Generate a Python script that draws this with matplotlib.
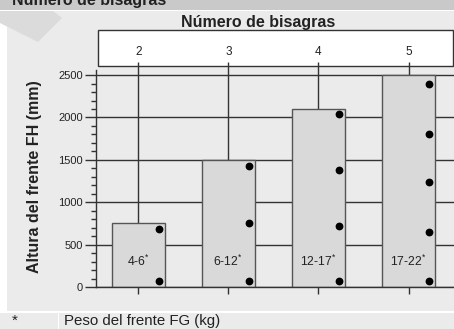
import matplotlib
matplotlib.use('Agg')
import matplotlib.pyplot as plt
from matplotlib.patches import Rectangle, Polygon
from matplotlib.ticker import MultipleLocator

# hinge count, max front height (mm) and front weight range (kg) per column
hinges = [2, 3, 4, 5]
front_height = [750, 1500, 2100, 2500]
front_weight = ['4-6', '6-12', '12-17', '17-22']
# hinge positions marked along each front (mm)
hinge_spots = [
    [70, 680],
    [70, 750, 1430],
    [70, 720, 1380, 2040],
    [70, 650, 1240, 1810, 2400],
]

plt.rcParams['font.family'] = ['Liberation Sans', 'DejaVu Sans']
plt.rcParams['mathtext.fontset'] = 'custom'
plt.rcParams['mathtext.rm'] = 'Liberation Sans'

W, H = 454, 329
BG = '#ebebeb'
INK = '#222222'
LINE = '#333333'


def frect(x0, y0, x1, y1, **kw):
    # rectangle given in pixels measured from the top-left corner
    return Rectangle((x0 / W, 1 - y1 / H), (x1 - x0) / W, (y1 - y0) / H,
                     transform=fig.transFigure, zorder=-1, **kw)


fig = plt.figure(figsize=(W / 100, H / 100), dpi=100, facecolor=BG)

# page decoration: header band, white rules, faded chevron
fig.patches.append(frect(0, 0, W, 9.6, facecolor='#c9c9c9', edgecolor='none'))
fig.patches.append(frect(0, 9.6, W, 11, facecolor='white', edgecolor='none'))
fig.patches.append(frect(0, 11, 7, 311, facecolor='white', edgecolor='none'))
fig.patches.append(frect(0, 311, W, 313, facecolor='white', edgecolor='none'))
fig.patches.append(frect(57.5, 313, 59, H, facecolor='white', edgecolor='none'))
chevron = [(0, 11), (53, 11), (62, 18), (38, 42), (0, 23)]
fig.patches.append(Polygon([(x / W, 1 - y / H) for x, y in chevron],
                           closed=True, transform=fig.transFigure, zorder=-1,
                           facecolor='#dbdbdb', edgecolor='none'))
fig.text(12 / W, 1 - 5 / H, 'Número de bisagras', fontsize=11.5,
         fontweight='bold', color=INK, ha='left', va='baseline')

# footer note
fig.text(12 / W, 1 - 325 / H, '*', fontsize=11, color=INK, va='baseline')
fig.text(64 / W, 1 - 325.5 / H, 'Peso del frente FG (kg)', fontsize=10.8,
         color=INK, va='baseline')

# hinge count box above the chart
fig.patches.append(frect(98, 30, 452.5, 65.7, facecolor='white',
                         edgecolor=LINE, linewidth=1))
fig.text(258 / W, 1 - 22.5 / H, 'Número de bisagras', fontsize=11.5,
         fontweight='bold', color=INK, ha='center', va='center')

ax = fig.add_axes([96 / W, 42 / H, 358 / W, 217 / H])
ax.set_facecolor(BG)
ymax = 2560
ax.set_ylim(0, ymax)
ax.set_xlim(1.532, 5.503)

width = 0.588
ax.set_axisbelow(True)
ax.yaxis.grid(True, color=LINE, linewidth=1)

# leader lines from the box down to each bar top
top = ymax * 1.037
ax.vlines(hinges, front_height, top, color=LINE, linewidth=1,
          clip_on=False, zorder=1)

ax.bar(hinges, front_height, width=width, color='#d9d9d9',
       edgecolor='#555555', linewidth=1, zorder=2)

for x, h, w, spots in zip(hinges, front_height, front_weight, hinge_spots):
    ax.plot([x + 0.23] * len(spots), spots, 'o', color='black',
            markersize=4.6, zorder=3)
    ax.text(x, 300, w + r'$^{*}$', fontsize=8.8, color=INK,
            ha='center', va='center', zorder=4)
    ax.text(x, 1.084, str(x), fontsize=8.5, color=INK, ha='center',
            va='center', transform=ax.get_xaxis_transform(), clip_on=False)

for side in ('top', 'right'):
    ax.spines[side].set_visible(False)
for side in ('left', 'bottom'):
    ax.spines[side].set_color(LINE)
    ax.spines[side].set_linewidth(1)

ax.set_xticks(hinges)
ax.set_xticklabels([])
ax.tick_params(axis='x', direction='out', length=5, width=1, color=LINE)
ax.set_yticks(range(0, 2501, 500))
ax.yaxis.set_minor_locator(MultipleLocator(100))
ax.tick_params(axis='y', which='major', direction='out', length=8, width=1,
               color=LINE, labelsize=8, labelcolor=INK, pad=1.5)
ax.tick_params(axis='y', which='minor', direction='out', length=3.5,
               width=1, color=LINE)

ax.set_ylabel('Altura del frente FH (mm)', fontsize=11.5, fontweight='bold',
              color=INK)
ax.yaxis.set_label_coords(-0.151, 0.509)

fig.savefig('out.png', dpi=100, facecolor=BG)
